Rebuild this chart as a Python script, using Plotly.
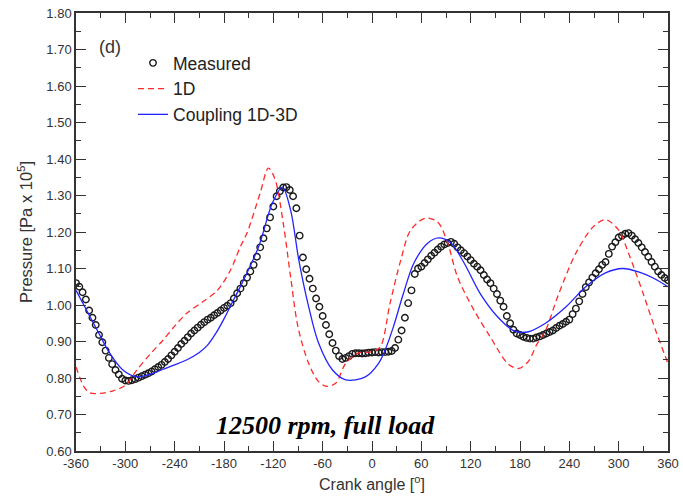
import plotly.graph_objects as go

# ---- Measured (open circles), every 4 degrees ----
meas_x = list(range(-360, 361, 4))
meas_y = [
    1.060, 1.050, 1.035, 1.015, 0.985, 0.965, 0.945, 0.918, 0.898, 0.875,
    0.855, 0.838, 0.822, 0.810, 0.798, 0.793, 0.792, 0.794, 0.797, 0.801,
    0.805, 0.809, 0.813, 0.818, 0.824, 0.830, 0.836, 0.844, 0.852, 0.862,
    0.872, 0.882, 0.893, 0.902, 0.912, 0.922, 0.930, 0.938, 0.946, 0.953,
    0.960, 0.965, 0.972, 0.978, 0.985, 0.992, 0.998, 1.005, 1.018, 1.032,
    1.045, 1.060, 1.075, 1.092, 1.110, 1.132, 1.158, 1.183, 1.210, 1.240,
    1.270, 1.298, 1.312, 1.322, 1.323, 1.315, 1.298, 1.265, 1.190, 1.130,
    1.098, 1.072, 1.045, 1.018, 0.995, 0.970, 0.945, 0.920, 0.896, 0.875,
    0.860, 0.852, 0.855, 0.860, 0.866, 0.868, 0.868, 0.867, 0.868, 0.869,
    0.870, 0.871, 0.870, 0.871, 0.871, 0.872, 0.874, 0.882, 0.905, 0.930,
    0.965, 1.005, 1.040, 1.085, 1.100, 1.105, 1.115, 1.125, 1.135, 1.143,
    1.152, 1.160, 1.166, 1.170, 1.173, 1.168, 1.158, 1.150, 1.142, 1.133,
    1.123, 1.113, 1.105, 1.095, 1.082, 1.070, 1.060, 1.045, 1.030, 1.012,
    0.995, 0.970, 0.950, 0.932, 0.922, 0.918, 0.913, 0.910, 0.908, 0.908,
    0.911, 0.914, 0.918, 0.922, 0.926, 0.930, 0.937, 0.943, 0.948, 0.954,
    0.960, 0.975, 0.990, 1.010, 1.030, 1.049, 1.062, 1.075, 1.087, 1.098,
    1.110, 1.118, 1.140, 1.160, 1.172, 1.185, 1.190, 1.195, 1.197, 1.190,
    1.180, 1.170, 1.158, 1.145, 1.132, 1.118, 1.105, 1.092, 1.082, 1.074,
    1.068,
]

# ---- 1D (red dashed) ----
d1_x = [-360, -350, -343, -330, -315, -300, -286, -270, -254, -240, -225,
        -205, -188, -172, -160, -152, -136, -126, -118, -108, -99, -90, -77,
        -65, -55, -44, -32, -17, 0, 10, 22, 35, 47, 65, 80, 92, 104, 124,
        144, 165, 178, 190, 200, 211, 227, 248, 269, 284, 300, 312, 330,
        345, 360]
d1_y = [0.830, 0.775, 0.759, 0.758, 0.765, 0.780, 0.822, 0.865, 0.904,
        0.942, 0.978, 1.010, 1.040, 1.096, 1.160, 1.197, 1.307, 1.375,
        1.345, 1.225, 1.077, 0.940, 0.840, 0.790, 0.777, 0.786, 0.840,
        0.868, 0.872, 0.885, 1.005, 1.123, 1.205, 1.238, 1.227, 1.170,
        1.077, 0.986, 0.912, 0.840, 0.826, 0.845, 0.890, 0.930, 1.030,
        1.142, 1.214, 1.234, 1.205, 1.142, 1.030, 0.930, 0.840]

# ---- Coupling 1D-3D (blue solid) ----
cp_x = [-360, -334, -319, -303, -286, -270, -254, -240, -225, -210, -200,
        -190, -180, -172, -158, -138, -121, -109, -99, -89, -77, -65, -48,
        -32, -8, 8, 16, 26, 38, 51, 68, 81, 96, 112, 132, 153, 172, 189,
        211, 236, 260, 284, 305, 325, 342, 360]
cp_y = [1.040, 0.930, 0.868, 0.822, 0.803, 0.810, 0.824, 0.836, 0.850,
        0.870, 0.890, 0.922, 0.962, 0.998, 1.060, 1.159, 1.280, 1.323,
        1.260, 1.123, 0.995, 0.896, 0.822, 0.795, 0.803, 0.840, 0.877,
        0.940, 1.030, 1.115, 1.170, 1.184, 1.170, 1.115, 1.030, 0.967,
        0.930, 0.926, 0.950, 0.995, 1.050, 1.088, 1.100, 1.090, 1.074,
        1.050]

x_ticks = list(range(-360, 361, 60))
y_ticks = [round(0.6 + 0.1 * i, 2) for i in range(13)]
y_labels = [f"{v:.2f}" for v in y_ticks]

FONT = "Liberation Sans, Arial"
INK = "#333333"

fig = go.Figure()
fig.add_trace(go.Scatter(
    x=meas_x, y=meas_y, mode="markers", name="Measured",
    marker=dict(symbol="circle-open", size=6.5, color="#1a1a1a",
                line=dict(width=1.4, color="#1a1a1a")),
))
fig.add_trace(go.Scatter(
    x=d1_x, y=d1_y, mode="lines", name="1D",
    line=dict(color="#ff2a2a", width=1.3, dash="6px,4px", shape="spline", smoothing=0.9),
))
fig.add_trace(go.Scatter(
    x=cp_x, y=cp_y, mode="lines", name="Coupling 1D-3D",
    line=dict(color="#2323ff", width=1.3, shape="spline", smoothing=0.9),
))

axis_common = dict(
    showline=True, linecolor=INK, linewidth=1.5, mirror="allticks",
    ticks="inside", ticklen=10, tickwidth=1.2, tickcolor=INK,
    showgrid=False, zeroline=False,
    tickfont=dict(family=FONT, size=13, color=INK),
)

fig.update_xaxes(
    range=[-360, 360], tickvals=x_ticks, ticktext=[str(v) for v in x_ticks],
    minor=dict(ticks="inside", ticklen=5, dtick=30, tick0=-360, tickcolor=INK, tickwidth=1.2),
    title=dict(text="Crank angle [<sup>o</sup>]", standoff=8,
               font=dict(family=FONT, size=16, color=INK)),
    **axis_common,
)
fig.update_yaxes(
    range=[0.6, 1.8], tickvals=y_ticks, ticktext=y_labels,
    minor=dict(ticks="inside", ticklen=5, dtick=0.05, tick0=0.6, tickcolor=INK, tickwidth=1.2),
    title=dict(text="Pressure [Pa x 10<sup>5</sup>]", standoff=10,
               font=dict(family=FONT, size=16.5, color=INK)),
    **axis_common,
)

fig.add_annotation(
    x=0.422, y=0.059, xref="paper", yref="paper", showarrow=False,
    xanchor="center", yanchor="middle",
    text="<b><i>12500 rpm, full load</i></b>",
    font=dict(family="Liberation Serif, Times New Roman", size=26, color="black"),
)
fig.add_annotation(
    x=0.035, y=0.922, xref="paper", yref="paper", showarrow=False,
    xanchor="left", yanchor="middle", text="(d)",
    font=dict(family=FONT, size=18, color=INK),
)

fig.update_layout(
    width=683, height=496,
    margin=dict(l=76, r=15, t=13, b=45, autoexpand=False),
    plot_bgcolor="white", paper_bgcolor="white",
    showlegend=True,
    legend=dict(x=0.0963, y=0.927, xanchor="left", yanchor="top",
                bgcolor="rgba(0,0,0,0)", tracegroupgap=0,
                font=dict(family=FONT, size=17.5, color="#222222")),
)

fig.write_html("out.html")
